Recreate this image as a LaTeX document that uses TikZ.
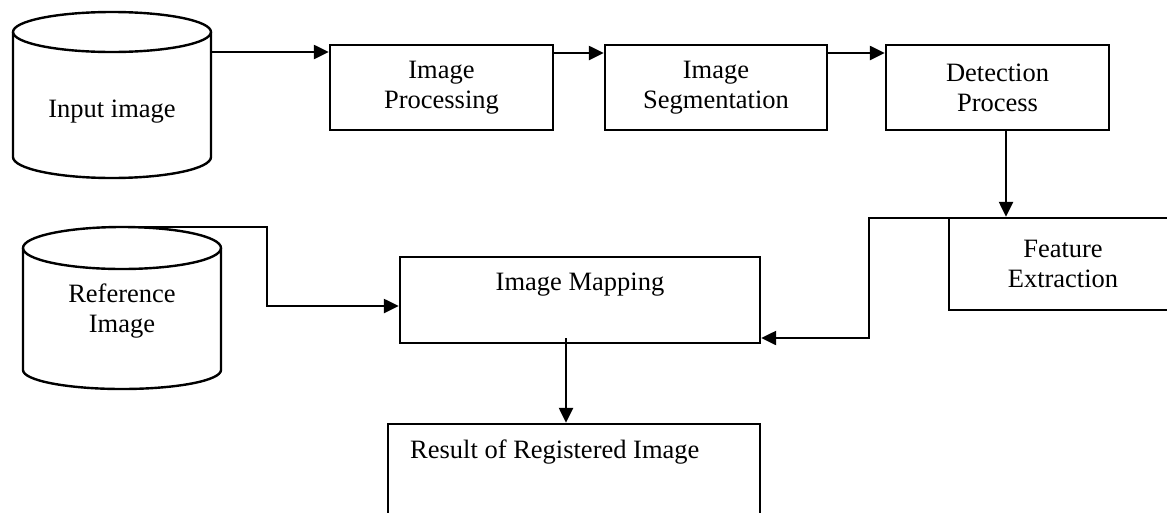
\documentclass[tikz,border=0pt]{standalone}
\usepackage{fontspec}
\setmainfont{Liberation Serif}
\usetikzlibrary{arrows.meta}
\begin{document}
\begin{tikzpicture}[x=1pt,y=-1pt,
  every node/.style={font=\fontsize{26.5}{30}\selectfont, inner sep=0pt},
  box/.style={draw, line width=2.4pt},
  arr/.style={line width=2.4pt, -{Triangle[length=15pt,width=14pt]}},
  cylline/.style={line width=2.4pt}]
\clip (0,0) rectangle (1167,512);
\fill[white] (0,0) rectangle (1167,512);
% cylinders
\draw[cylline] (13,32) -- (13,157) arc[start angle=180,end angle=360,x radius=99pt,y radius=21pt] -- (211,32);
\draw[cylline] (112,32) ellipse[x radius=99pt,y radius=20pt];
\draw[cylline] (23,248) -- (23,370) arc[start angle=180,end angle=360,x radius=99pt,y radius=19pt] -- (221,248);
\draw[cylline] (122,248) ellipse[x radius=99pt,y radius=21pt];
\node (inp) at (112,112) {Input image};
\node[align=center] (ref) at (122,311) {Reference\\Image};
% boxes
\node[box, minimum width=223pt, minimum height=85pt, align=center] (proc) at (441.5,87.5) {Image\\Processing};
\node[box, minimum width=222pt, minimum height=85pt, align=center] (seg) at (716,87.5) {Image\\Segmentation};
\node[box, minimum width=223pt, minimum height=85pt, align=center] (det) at (997.5,87.5) {Detection\\Process};
\node[box, minimum width=228pt, minimum height=92pt, align=center] (feat) at (1063,264) {Feature\\Extraction};
\node[box, minimum width=360pt, minimum height=86pt] (map) at (580,300) {};
\node (maptext) at (580,285) {Image Mapping};
\node[box, minimum width=372pt, minimum height=106pt] (res) at (574,477) {};
\node[anchor=west] (restext) at (410,452) {Result of Registered Image};
% helper coordinates
\coordinate (inA) at (211,52);
\coordinate (y53) at (0,53);
\coordinate (dx) at (1006,0);
\coordinate (fb) at (978,218);
\coordinate (fbc) at (869,218);
\coordinate (y338) at (0,338);
\coordinate (refA) at (135,227);
\coordinate (refB) at (267,227);
\coordinate (y306) at (0,306);
\coordinate (mx) at (566,0);
% connectors
\draw[arr] (inA) -- (inA -| proc.west);
\draw[arr] (proc.east |- y53) -- (seg.west |- y53);
\draw[arr] (seg.east |- y53) -- (det.west |- y53);
\draw[arr] (det.south -| dx) -- (feat.north -| dx);
\draw[arr] (fb) -- (fbc) |- (map.east |- y338);
\draw[arr] (refA) -- (refB) |- (map.west |- y306);
\draw[arr] (mx |- y338) -- (res.north -| mx);
\end{tikzpicture}
\end{document}
